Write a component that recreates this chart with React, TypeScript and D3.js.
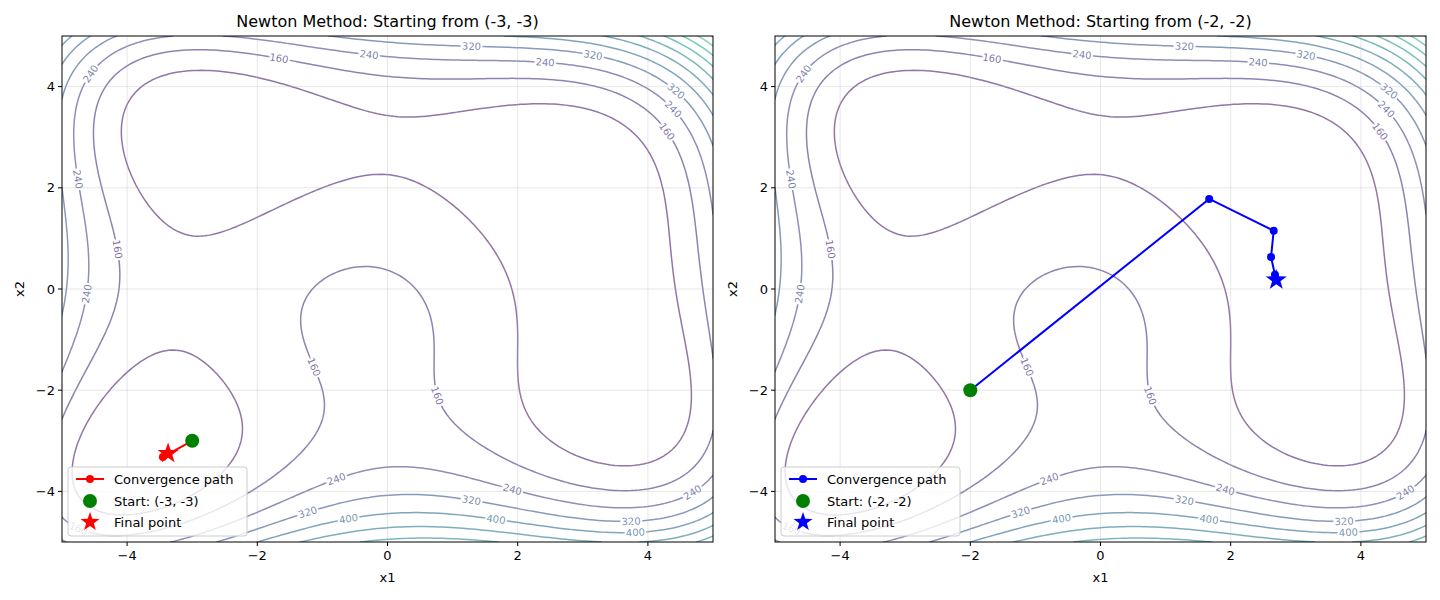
import { useMemo } from "react";
import * as d3 from "d3";

const W = 1440;
const H = 600;
const TICKS = [-4, -2, 0, 2, 4];
const LEVELS = d3.range(80, 1201, 80);
const LABEL_LEVELS = [80, 160, 240, 320, 400, 480, 560, 640, 720, 800, 880];

const PATH_A_X = [-3, -3.45, -3.37];
const PATH_A_Y = [-3, -3.32, -3.25];
const PATH_B_X = [-2, 1.67, 2.66, 2.62, 2.68, 2.7];
const PATH_B_Y = [-2, 1.78, 1.15, 0.63, 0.28, 0.18];

const PANELS = [
  { left: 62, title: "Newton Method: Starting from (-3, -3)", xs: PATH_A_X, ys: PATH_A_Y, color: "red", start: "Start: (-3, -3)" },
  { left: 775, title: "Newton Method: Starting from (-2, -2)", xs: PATH_B_X, ys: PATH_B_Y, color: "blue", start: "Start: (-2, -2)" },
];

const TOP = 36;
const PW = 651;
const PH = 506;
const N = 160;

const f = (x: number, y: number) => (x * x + y - 11) ** 2 + (x + y * y - 7) ** 2;

function starPath(r: number) {
  const pts: string[] = [];
  for (let i = 0; i < 10; i++) {
    const a = -Math.PI / 2 + (i * Math.PI) / 5;
    const rr = i % 2 === 0 ? r : r * 0.4;
    pts.push(`${rr * Math.cos(a)},${rr * Math.sin(a)}`);
  }
  return "M" + pts.join("L") + "Z";
}

function Panel({ p, idx }: { p: (typeof PANELS)[0]; idx: number }) {
  const x = d3.scaleLinear().domain([-5, 5]).range([0, PW]);
  const y = d3.scaleLinear().domain([-5, 5]).range([PH, 0]);
  const color = d3.scaleSequential(d3.interpolateViridis).domain([0, 1200]);

  const contours = useMemo(() => {
    const vals: number[] = [];
    for (let j = 0; j < N; j++)
      for (let i = 0; i < N; i++) vals.push(f(-5 + (10 * i) / (N - 1), -5 + (10 * j) / (N - 1)));
    return d3.contours().size([N, N]).thresholds(LEVELS)(vals);
  }, []);

  const gx = (i: number) => x(-5 + (10 * i) / (N - 1));
  const gy = (j: number) => y(-5 + (10 * j) / (N - 1));
  const proj = d3.geoTransform({
    point(px, py) {
      this.stream.point(gx(px - 0.5), gy(py - 0.5));
    },
  });
  const path = d3.geoPath(proj);

  const labels: { x: number; y: number; a: number; t: string; c: string }[] = [];
  contours.forEach((c) => {
    if (!LABEL_LEVELS.includes(c.value)) return;
    c.coordinates.forEach((poly) => {
      const ring = poly[0].filter(([a, b]) => a > 3 && a < N - 3 && b > 3 && b < N - 3);
      if (ring.length < 60) return;
      const step = Math.floor(ring.length / 3);
      for (let k = Math.floor(step / 2); k < ring.length - 2; k += step) {
        const [a0, b0] = ring[k];
        const [a1, b1] = ring[k + 2];
        const X = gx(a0 - 0.5), Y = gy(b0 - 0.5);
        let ang = (Math.atan2(gy(b1) - gy(b0), gx(a1) - gx(a0)) * 180) / Math.PI;
        if (ang > 90) ang -= 180;
        if (ang < -90) ang += 180;
        labels.push({ x: X, y: Y, a: ang, t: String(c.value), c: color(c.value) });
      }
    });
  });

  const line = d3.line<number>().x((i) => x(p.xs[i])).y((i) => y(p.ys[i]));
  const idxs = p.xs.map((_, i) => i);
  const last = p.xs.length - 1;
  const clip = `clip${idx}`;

  return (
    <g transform={`translate(${p.left},${TOP})`} fontFamily="DejaVu Sans">
      <defs>
        <clipPath id={clip}>
          <rect width={PW} height={PH} />
        </clipPath>
      </defs>
      <rect width={PW} height={PH} fill="white" />
      <g clipPath={`url(#${clip})`}>
        {contours.map((c) => (
          <path key={c.value} d={path(c) ?? ""} fill="none" stroke={color(c.value)} strokeOpacity={0.6} strokeWidth={1.5} />
        ))}
        {labels.map((l, i) => (
          <text key={i} transform={`translate(${l.x},${l.y}) rotate(${l.a})`} textAnchor="middle" dy="0.35em" fontSize={10}
            fill={l.c} fillOpacity={0.7} stroke="white" strokeWidth={4} paintOrder="stroke">{l.t}</text>
        ))}
        {TICKS.map((t) => (
          <g key={t}>
            <line x1={x(t)} x2={x(t)} y1={0} y2={PH} stroke="#b0b0b0" strokeOpacity={0.3} />
            <line y1={y(t)} y2={y(t)} x1={0} x2={PW} stroke="#b0b0b0" strokeOpacity={0.3} />
          </g>
        ))}
        <path d={line(idxs) ?? ""} fill="none" stroke={p.color} strokeWidth={2} />
        {idxs.map((i) => <circle key={i} cx={x(p.xs[i])} cy={y(p.ys[i])} r={4} fill={p.color} />)}
        <circle cx={x(p.xs[0])} cy={y(p.ys[0])} r={7} fill="green" />
        <path d={starPath(11)} transform={`translate(${x(p.xs[last])},${y(p.ys[last])})`} fill={p.color} />
      </g>
      <rect width={PW} height={PH} fill="none" stroke="black" strokeWidth={1} />
      {TICKS.map((t) => (
        <g key={t}>
          <line x1={x(t)} x2={x(t)} y1={PH} y2={PH + 4} stroke="black" />
          <text x={x(t)} y={PH + 18} textAnchor="middle" fontSize={13}>{t < 0 ? `\u2212${-t}` : t}</text>
          <line x1={-4} x2={0} y1={y(t)} y2={y(t)} stroke="black" />
          <text x={-7} y={y(t)} dy="0.35em" textAnchor="end" fontSize={13}>{t < 0 ? `\u2212${-t}` : t}</text>
        </g>
      ))}
      <text x={PW / 2} y={-9} textAnchor="middle" fontSize={16}>{p.title}</text>
      <text x={PW / 2} y={PH + 40} textAnchor="middle" fontSize={13}>x1</text>
      <text transform={`translate(-38,${PH / 2}) rotate(-90)`} textAnchor="middle" fontSize={13}>x2</text>
      <g transform={`translate(6,${PH - 75})`}>
        <rect width={179} height={69} rx={3} fill="white" fillOpacity={0.8} stroke="#cccccc" />
        <line x1={8} x2={36} y1={12} y2={12} stroke={p.color} strokeWidth={2} />
        <circle cx={22} cy={12} r={4} fill={p.color} />
        <text x={46} y={12} dy="0.35em" fontSize={13}>Convergence path</text>
        <circle cx={22} cy={34} r={7} fill="green" />
        <text x={46} y={34} dy="0.35em" fontSize={13}>{p.start}</text>
        <path d={starPath(10)} transform="translate(22,55)" fill={p.color} />
        <text x={46} y={55} dy="0.35em" fontSize={13}>Final point</text>
      </g>
    </g>
  );
}

export default function App() {
  return (
    <svg width={W} height={H} style={{ position: "absolute", left: 0, top: 0 }}>
      <rect width={W} height={H} fill="white" />
      {PANELS.map((p, i) => <Panel key={i} p={p} idx={i} />)}
    </svg>
  );
}
